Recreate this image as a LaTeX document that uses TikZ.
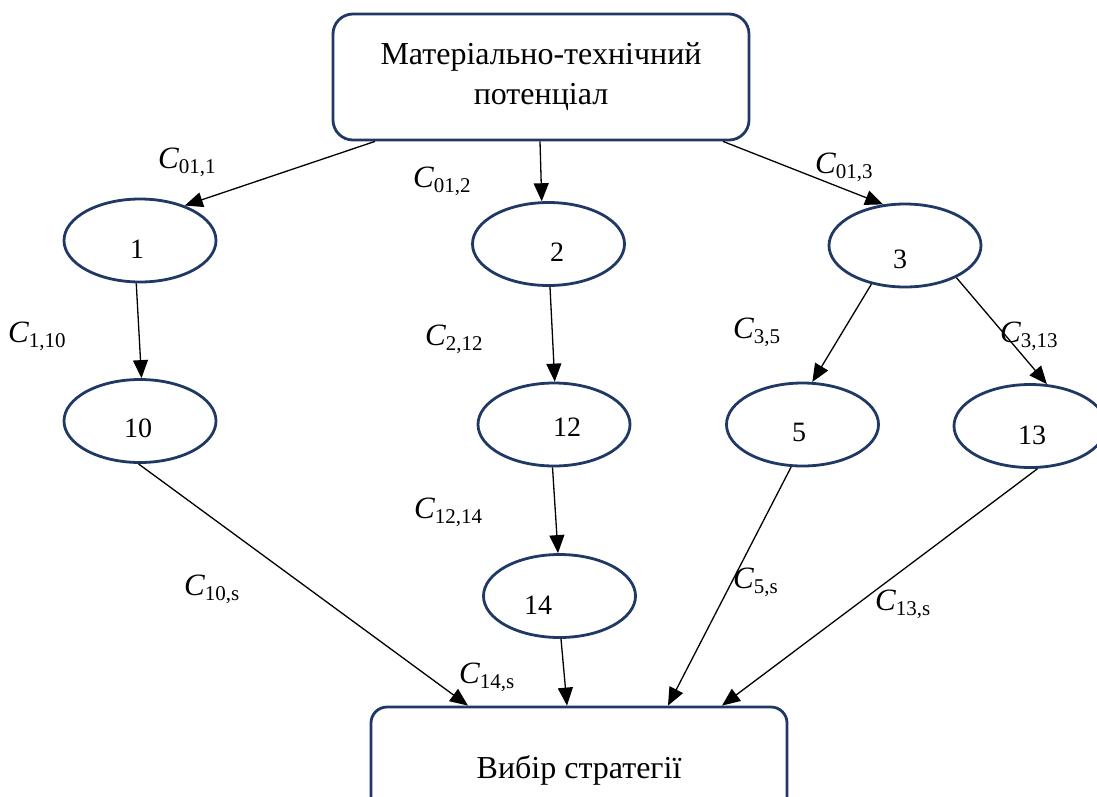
\documentclass[tikz,border=0pt]{standalone}
\usepackage{fontspec}
\setmainfont{Liberation Serif}
\usetikzlibrary{shapes.geometric,arrows.meta}
\definecolor{navy}{HTML}{1F3864}
% weight label: italic C with an upright lowered index
\newcommand\wt[1]{{\fontsize{31}{31}\selectfont\itshape C}\raisebox{-5pt}{\fontsize{21}{21}\selectfont #1}}
\tikzset{
  state/.style={ellipse, draw=navy, line width=2.8pt, minimum width=152pt,
    minimum height=83pt, inner sep=0pt},
  num/.style={inner sep=0pt, anchor=base, font=\fontsize{28}{28}\selectfont},
  panel/.style={rectangle, rounded corners=20pt, draw=navy, line width=2.8pt,
    inner sep=0pt},
  link/.style={black, line width=1.3pt, -{Triangle[length=18pt,width=15pt]}},
  weight/.style={inner sep=0pt, anchor=base west}
}
\begin{document}
\begin{tikzpicture}[x=1pt,y=-1pt]
\useasboundingbox (0,0) rectangle (1097,796);

% boxes
\node[panel, minimum width=416pt, minimum height=126pt, align=center,
  font=\fontsize{32}{40}\selectfont] (top) at (541,77)
  {Матеріально-технічний\\потенціал};
\node[panel, rounded corners=16pt, minimum width=416pt, minimum height=126pt,
  font=\fontsize{32}{32}\selectfont] (s) at (579,770) {Вибір стратегії};

% states
\node[state] (e1)  at (140,240.5) {};
\node[state] (e2)  at (548.5,244) {};
\node[state] (e3)  at (905,245.5) {};
\node[state] (e10) at (140,421) {};
\node[state] (e12) at (554,424.5) {};
\node[state] (e5)  at (802.5,424.5) {};
\node[state] (e13) at (1030,426) {};
\node[state] (e14) at (559.5,596) {};

% state numbers
\node[num] (t1)  at (137,258)  {1};
\node[num] (t2)  at (557,261)  {2};
\node[num] (t3)  at (900,268)  {3};
\node[num] (t10) at (138,437)  {10};
\node[num] (t12) at (567,436)  {12};
\node[num] (t5)  at (799,441)  {5};
\node[num] (t13) at (1032,444) {13};
\node[num] (t14) at (538,614)  {14};

% connectors
\draw[link] ([xshift=-166pt]top.south) -- (e1.38);
\draw[link] ([xshift=-1pt]top.south) -- (e2.99);
\draw[link] ([xshift=182pt]top.south) -- (e3.118);
\draw[link] (e1.265) -- (e10.88);
\draw[link] (e2.272) -- (e12.89);
\draw[link] (e3.229) -- (e5.77);
\draw[link] (e3.328) -- (e13.68);
\draw[link] (e12.268) -- (e14.92);
\draw[link] (e10.268) -- ([xshift=-111pt]s.north);
\draw[link] (e14.272) -- ([xshift=-12pt]s.north);
\draw[link] (e5.255) -- ([xshift=89pt]s.north);
\draw[link] (e13.280) -- ([xshift=143pt]s.north);

% weights
\node[weight] (w011) at (158,168)  {\wt{01,1}};
\node[weight] (w012) at (413,187)  {\wt{01,2}};
\node[weight] (w013) at (815,173)  {\wt{01,3}};
\node[weight] (w110) at (8,342)    {\wt{1,10}};
\node[weight] (w212) at (425,345)  {\wt{2,12}};
\node[weight] (w35)  at (733,338)  {\wt{3,5}};
\node[weight] (w313) at (1000,342) {\wt{3,13}};
\node[weight] (w1214) at (414,518) {\wt{12,14}};
\node[weight] (w10s) at (184,595)  {\wt{10,s}};
\node[weight] (w14s) at (459,683)  {\wt{14,s}};
\node[weight] (w5s)  at (733,588)  {\wt{5,s}};
\node[weight] (w13s) at (875,610)  {\wt{13,s}};
\end{tikzpicture}
\end{document}
